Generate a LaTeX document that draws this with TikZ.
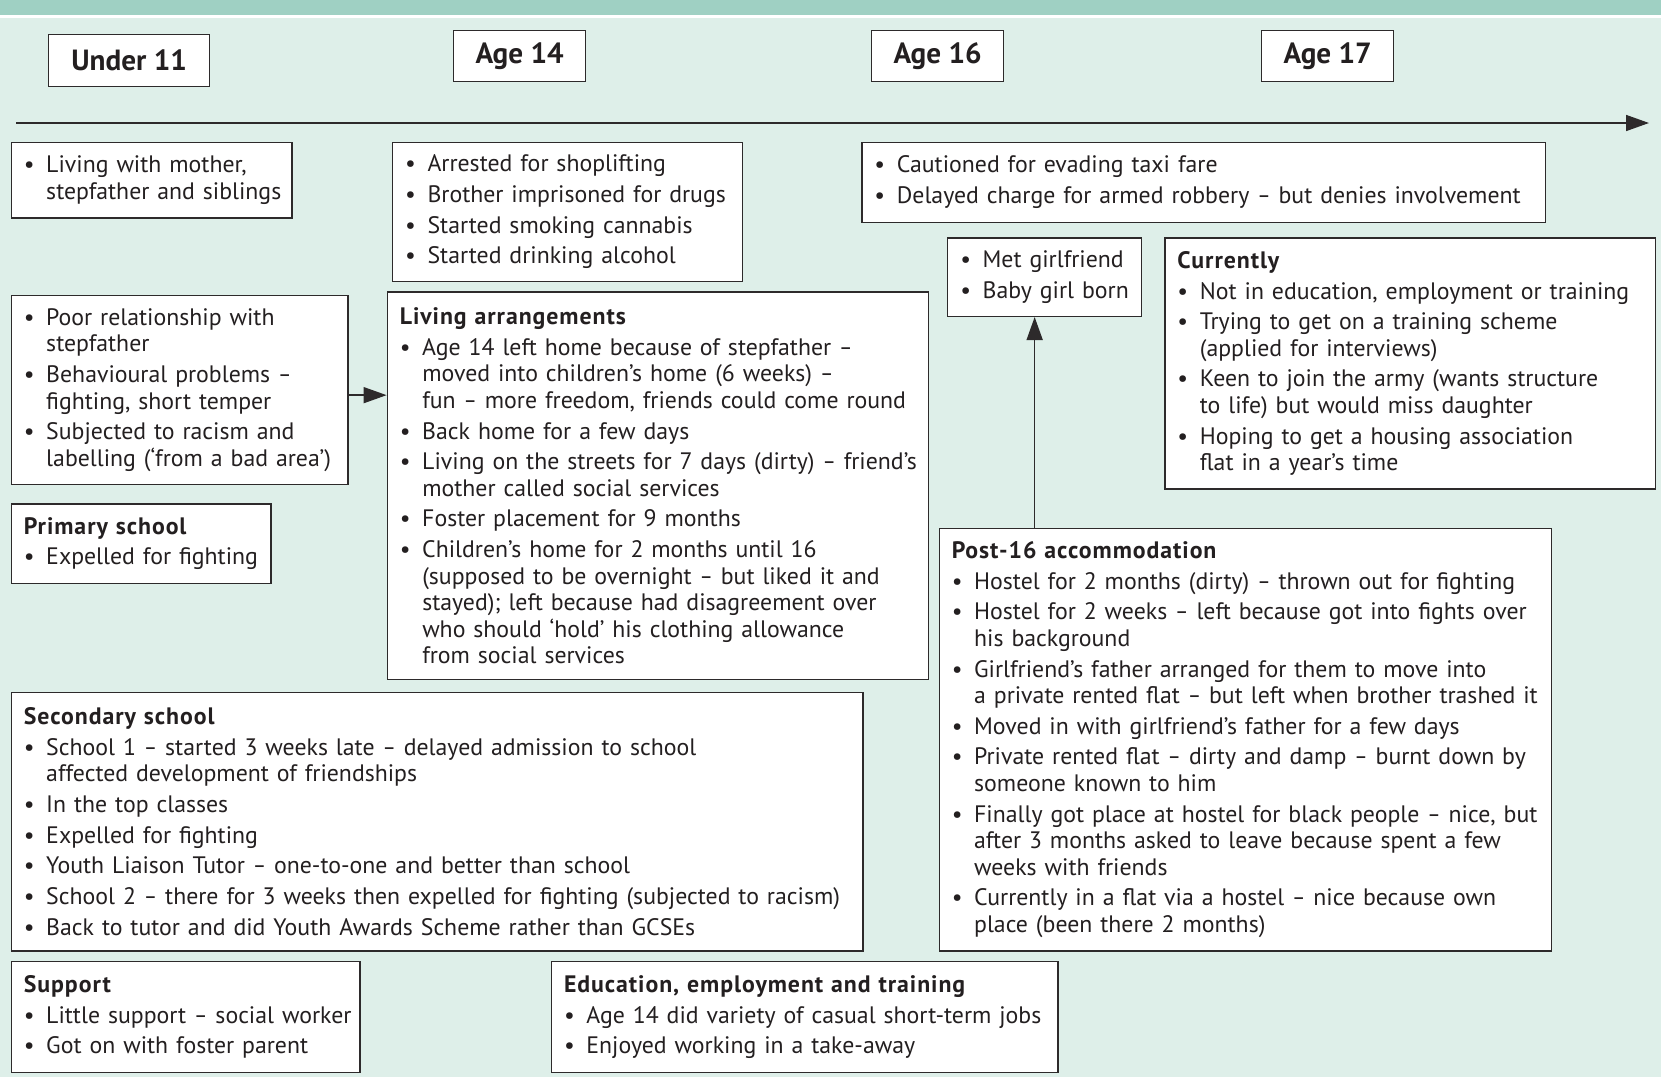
\documentclass[tikz,border=0pt]{standalone}
\usepackage{fontspec}
\setmainfont{PT Sans}
\newfontfamily\titlefont{PT Sans}[LetterSpace=4]
\usetikzlibrary{arrows.meta}

\definecolor{bandgreen}{RGB}{159,208,195}
\definecolor{bggreen}{RGB}{222,239,233}
\definecolor{boxline}{RGB}{45,42,43}
\definecolor{textdark}{RGB}{35,31,32}

\newcommand\boxtitle[1]{\noindent{\titlefont\bfseries #1}\par}
\newcommand\firstitem{\noindent\hangindent=11.2pt\hangafter=1\makebox[11.2pt][l]{\textbullet}}
\newcommand\bitem{\par\firstitem}
\newcommand\dsh{\scalebox{0.85}[1]{–}}

\tikzset{
  infobox/.style={draw=boxline, fill=white, line width=0.65pt, anchor=north west,
    inner xsep=0pt, inner ysep=0pt, text=textdark,
    font=\fontsize{11.9}{13.25}\selectfont,
    execute at begin node={\setlength{\parskip}{2.1pt}\leftskip=5.8pt\rightskip=-20pt}},
  agebox/.style={draw=boxline, fill=white, line width=0.65pt, anchor=north west,
    inner sep=0pt, text=textdark, minimum width=66pt, minimum height=25.5pt,
    font=\fontsize{14.6}{16}\selectfont\bfseries},
  flow/.style={line width=0.75pt, draw=boxline, -{Triangle[length=11.5pt,width=8pt]}}
}

\begin{document}
\begin{tikzpicture}[x=0.5pt, y=-0.5pt]
\useasboundingbox (0,0) rectangle (1661,1077);
\fill [bggreen] (0,0) rectangle (1661,1077);
\fill [bandgreen] (0,0) rectangle (1661,15);
\fill [white] (0,15) rectangle (1661,17.5);

% age headings
\node [agebox, minimum width=80.5pt, minimum height=26pt] (under11) at (48,34) {Under 11};
\node [agebox] (age14) at (453,30) {Age 14};
\node [agebox] (age16) at (871,30) {Age 16};
\node [agebox] (age17) at (1261,30) {Age 17};

% timeline
\coordinate (tstart) at (16,123);
\coordinate (tend) at (1649,123);
\draw [flow] (tstart) -- (tend);

% under 11
\node [infobox, minimum width=140.4pt, minimum height=37.7pt, text width=139.4pt] (livmother) at (10.6,141.9) {%
\firstitem Living with mother,\newline stepfather and siblings\par};
\node [infobox, minimum width=168.4pt, minimum height=94.8pt, text width=167.4pt] (poorrel) at (10.6,294.5) {%
\firstitem Poor relationship with\newline stepfather
\bitem Behavioural problems \dsh\newline fighting, short temper
\bitem Subjected to racism and\newline labelling (‘from a bad area’)\par};
\node [infobox, minimum width=129.8pt, minimum height=39.7pt, text width=128.8pt] (primary) at (10.6,503.2) {%
\boxtitle{Primary school}
\bitem Expelled for fighting\par};

% age 14
\node [infobox, minimum width=174.8pt, minimum height=69.4pt, text width=173.8pt] (arrested) at (391.9,141.9) {%
\firstitem Arrested for shoplifting
\bitem Brother imprisoned for drugs
\bitem Started smoking cannabis
\bitem Started drinking alcohol\par};
\node [infobox, minimum width=270.7pt, minimum height=193.9pt, text width=269.7pt] (livarr) at (386.6,291.3) {%
\boxtitle{Living arrangements}
\bitem Age 14 left home because of stepfather \dsh\newline moved into children’s home (6 weeks) \dsh\newline fun \dsh{} more freedom, friends could come round
\bitem Back home for a few days
\bitem Living on the streets for 7 days (dirty) \dsh{} friend’s\newline mother called social services
\bitem Foster placement for 9 months
\bitem Children’s home for 2 months until 16\newline (supposed to be overnight \dsh{} but liked it and\newline stayed); left because had disagreement over\newline who should ‘hold’ his clothing allowance\newline from social services\par};
\draw [flow] ([yshift=-2.6pt]poorrel.east) -- ([yshift=-2.6pt]poorrel.east -| livarr.west);

% age 16
\node [infobox, minimum width=341.7pt, minimum height=39.8pt, text width=340.7pt] (cautioned) at (861.2,141.9) {%
\firstitem Cautioned for evading taxi fare
\bitem Delayed charge for armed robbery \dsh{} but denies involvement\par};
\node [infobox, minimum width=97pt, minimum height=39.2pt, text width=96pt] (metgf) at (947,237.3) {%
\firstitem Met girlfriend
\bitem Baby girl born\par};
\node [infobox, minimum width=306.2pt, minimum height=211.4pt, text width=305.2pt] (post16) at (938.5,527.5) {%
\boxtitle{Post-16 accommodation}
\bitem Hostel for 2 months (dirty) \dsh{} thrown out for fighting
\bitem Hostel for 2 weeks \dsh{} left because got into fights over\newline his background
\bitem Girlfriend’s father arranged for them to move into\newline a private rented flat \dsh{} but left when brother trashed it
\bitem Moved in with girlfriend’s father for a few days
\bitem Private rented flat \dsh{} dirty and damp \dsh{} burnt down by\newline someone known to him
\bitem Finally got place at hostel for black people \dsh{} nice, but\newline after 3 months asked to leave because spent a few\newline weeks with friends
\bitem Currently in a flat via a hostel \dsh{} nice because own\newline place (been there 2 months)\par};
\draw [flow] ([xshift=-5pt]metgf.south |- post16.north) -- ([xshift=-5pt]metgf.south);

% age 17
\node [infobox, minimum width=245.3pt, minimum height=125.5pt, text width=244.3pt] (currently) at (1164.2,237.3) {%
\boxtitle{Currently}
\bitem Not in education, employment or training
\bitem Trying to get on a training scheme\newline (applied for interviews)
\bitem Keen to join the army (wants structure\newline to life) but would miss daughter
\bitem Hoping to get a housing association\newline flat in a year’s time\par};

% bottom row
\node [infobox, minimum width=425.9pt, minimum height=129.3pt, text width=424.9pt] (secondary) at (10.6,691.7) {%
\boxtitle{Secondary school}
\bitem School 1 \dsh{} started 3 weeks late \dsh{} delayed admission to school\newline affected development of friendships
\bitem In the top classes
\bitem Expelled for fighting
\bitem Youth Liaison Tutor \dsh{} one-to-one and better than school
\bitem School 2 \dsh{} there for 3 weeks then expelled for fighting (subjected to racism)
\bitem Back to tutor and did Youth Awards Scheme rather than GCSEs\par};
\node [infobox, minimum width=174.3pt, minimum height=55.6pt, text width=173.3pt] (support) at (10.6,960.8) {%
\boxtitle{Support}
\bitem Little support \dsh{} social worker
\bitem Got on with foster parent\par};
\node [infobox, minimum width=253.2pt, minimum height=55.6pt, text width=252.2pt] (eet) at (550.8,960.8) {%
\boxtitle{Education, employment and training}
\bitem Age 14 did variety of casual short-term jobs
\bitem Enjoyed working in a take-away\par};
\end{tikzpicture}
\end{document}
